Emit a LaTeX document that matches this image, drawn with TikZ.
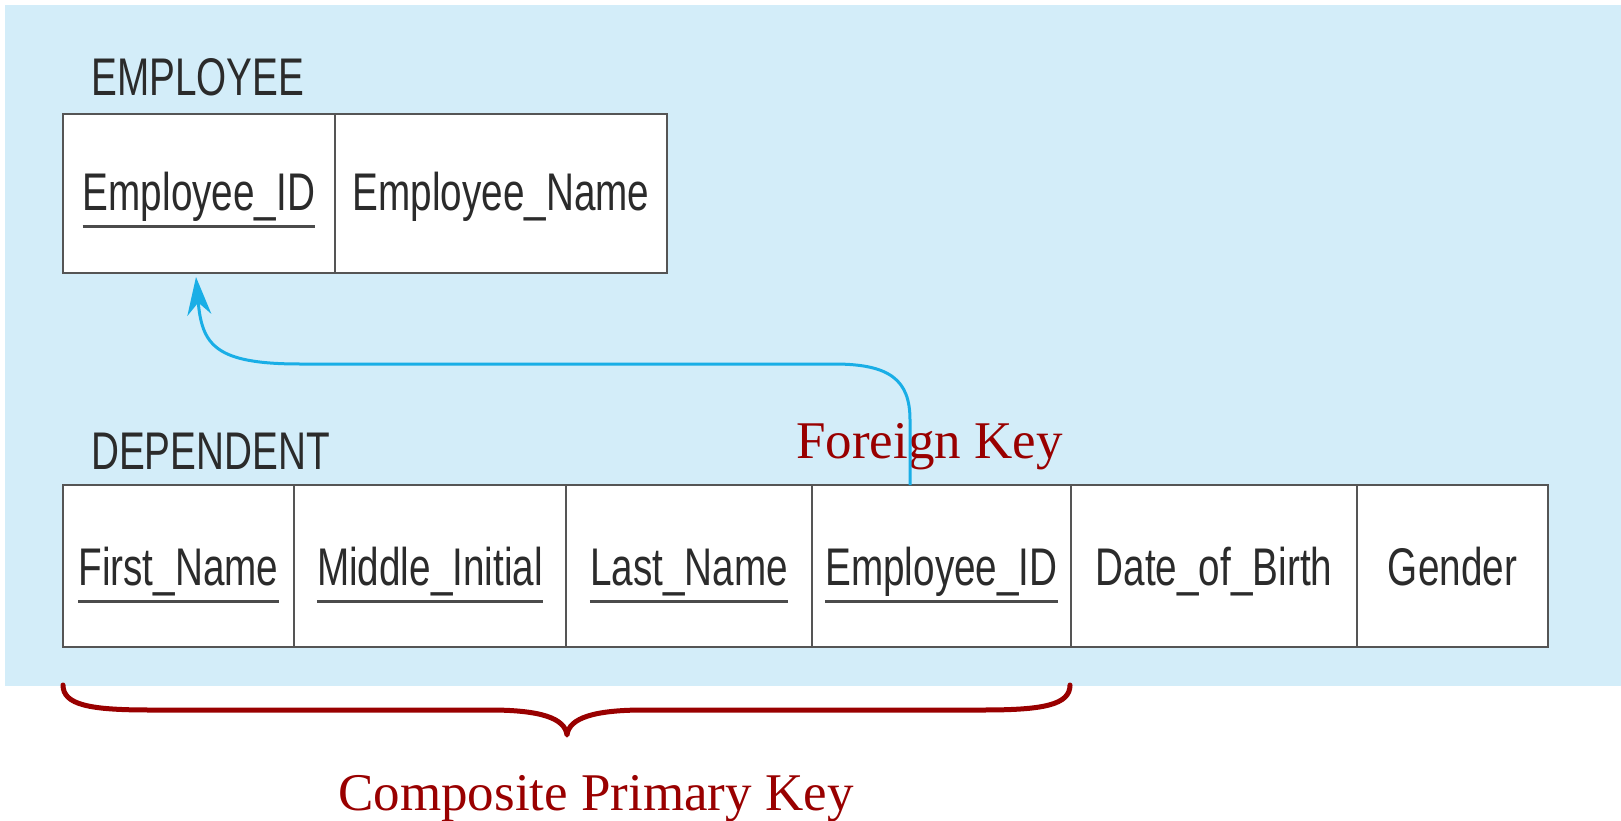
\documentclass[tikz,border=0pt]{standalone}
\usepackage{fontspec}
\setmainfont{Liberation Serif}
\setsansfont{Liberation Sans}
\usetikzlibrary{arrows.meta,calc}

\definecolor{bgblue}{HTML}{D3EDF9}
\definecolor{inkgray}{HTML}{2B2B2B}
\definecolor{rulegray}{HTML}{555555}
\definecolor{keyred}{HTML}{990000}
\definecolor{linkblue}{HTML}{19AEE6}

% condensed sans lettering used in the relation tables
\newcommand{\narrowtext}[1]{\scalebox{0.73}[1]{#1}}

\tikzset{
  cell/.style={draw=rulegray, line width=2.6pt, fill=white, inner sep=0pt, outer sep=0pt},
  field/.style={font=\fontsize{53}{60}\selectfont\sffamily, text=inkgray, inner sep=0pt, anchor=base},
  relname/.style={font=\fontsize{53}{60}\selectfont\sffamily, text=inkgray, inner sep=0pt, anchor=base west},
  keylabel/.style={font=\fontsize{53}{60}\selectfont\rmfamily, text=keyred, inner sep=0pt},
  uline/.style={draw=inkgray!85, line width=3pt},
  link/.style={draw=linkblue, line width=3pt, -{Stealth[length=38pt,width=24pt]}},
  bracket/.style={draw=keyred, line width=5pt, line cap=round, line join=round}
}

\begin{document}
\begin{tikzpicture}[x=1pt, y=-1pt]
  \useasboundingbox (0,0) rectangle (1621,821);
  \fill[bgblue] (5,5) rectangle (1621,686);

  % EMPLOYEE relation
  \node[relname] (emp-title) at (91,96) {\narrowtext{EMPLOYEE}};
  \node[cell, minimum width=272pt, minimum height=159pt] (e1) at (199,193.5) {};
  \node[cell, minimum width=332pt, minimum height=159pt] (e2) at (501,193.5) {};
  \node[field] (te1) at ([yshift=-17pt]e1.center) {\narrowtext{Employee\_ID}};
  \node[field] (te2) at ([yshift=-17pt]e2.center) {\narrowtext{Employee\_Name}};
  \draw[uline] ([yshift=-16pt]te1.base west) -- ([yshift=-16pt]te1.base east);

  % DEPENDENT relation
  \node[relname] (dep-title) at (91,469) {\narrowtext{DEPENDENT}};
  \node[cell, minimum width=231pt, minimum height=162pt] (d1) at (178.5,566) {};
  \node[cell, minimum width=272pt, minimum height=162pt] (d2) at (430,566) {};
  \node[cell, minimum width=246pt, minimum height=162pt] (d3) at (689,566) {};
  \node[cell, minimum width=259pt, minimum height=162pt] (d4) at (941.5,566) {};
  \node[cell, minimum width=286pt, minimum height=162pt] (d5) at (1214,566) {};
  \node[cell, minimum width=191pt, minimum height=162pt] (d6) at (1452.5,566) {};
  \node[field] (td1) at ([yshift=-19pt]d1.center) {\narrowtext{First\_Name}};
  \node[field] (td2) at ([yshift=-19pt]d2.center) {\narrowtext{Middle\_Initial}};
  \node[field] (td3) at ([yshift=-19pt]d3.center) {\narrowtext{Last\_Name}};
  \node[field] (td4) at ([yshift=-19pt]d4.center) {\narrowtext{Employee\_ID}};
  \node[field] (td5) at ([yshift=-19pt]d5.center) {\narrowtext{Date\_of\_Birth}};
  \node[field] (td6) at ([yshift=-19pt]d6.center) {\narrowtext{Gender}};
  \foreach \t in {td1,td2,td3,td4}
    \draw[uline] ([yshift=-16pt]\t.base west) -- ([yshift=-16pt]\t.base east);

  % key annotations
  \node[keylabel, anchor=base west] (fk-label) at (796,458) {Foreign Key};
  \node[keylabel, anchor=base] (pk-label) at (596,810) {Composite Primary Key};

  % foreign key reference
  \coordinate (fk-start) at ([xshift=-31.5pt]d4.north);
  \coordinate (fk-end) at ([xshift=-3pt,yshift=-4pt]e1.south);
  \draw[link] (fk-start) -- (910,420)
    .. controls (910,380) and (890,364) .. (834,364) -- (300,364)
    .. controls (215,364) and (202,345) .. (fk-end);

  % brace under the key columns
  \draw[bracket] (63,685) .. controls (63,705) and (90,710) .. (150,710) -- (490,710)
    .. controls (540,710) and (565,718) .. (567,735)
    .. controls (569,718) and (594,710) .. (644,710) -- (983,710)
    .. controls (1043,710) and (1070,705) .. (1070,685);
\end{tikzpicture}
\end{document}
